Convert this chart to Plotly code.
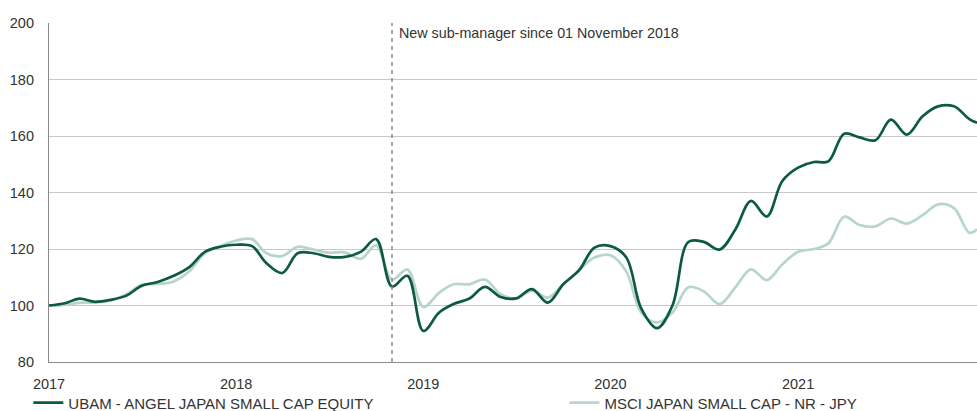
import plotly.graph_objects as go
import pandas as pd

dates = list(pd.date_range("2017-01-01", periods=60, freq="MS").strftime("%Y-%m-%d")) + ["2021-12-16"]

ubam = [100, 100.8, 102.4, 101.3, 102, 103.5, 107, 108.3, 110.5, 113.5, 119, 120.8,
        121.5, 121, 115, 111.5, 118.5, 118.5, 117.2, 117.2, 119, 123.5, 106.7, 110.5,
        91, 97.5, 100.5, 102.5, 106.6, 103, 102.5, 105.8, 101, 107.5, 112.5, 120.5,
        121, 117, 99, 92, 100, 122.5, 122.5, 119.8, 127, 137, 131.5, 144,
        148.8, 150.8, 151, 160.8, 159.5, 158.5, 165.8, 160.5, 167, 170.5, 170.5, 166,
        164.7]
msci = [100, 100.2, 100.9, 101.1, 101.8, 104, 107.3, 107.6, 108.5, 112, 118.5, 121,
        123, 123.5, 118.5, 117.5, 120.8, 119.8, 118.7, 118.8, 116.5, 121.3, 109.2, 112.7,
        99.5, 104.5, 107.5, 107.5, 109.2, 104, 102.5, 105.3, 102.8, 107.5, 112.5, 117,
        117.8, 112, 97.5, 94, 97.5, 106.5, 105, 100.5, 106.5, 112.8, 109, 114.5,
        119, 120, 122, 131.4, 128.5, 128, 130.8, 129, 132, 135.8, 134.5, 125.8,
        127]

name_ubam = "UBAM - ANGEL JAPAN SMALL CAP EQUITY"
name_msci = "MSCI JAPAN SMALL CAP - NR - JPY"
event_date = "2018-11-01"
event_text = "New sub-manager since 01 November 2018"
y_ticks = [80, 100, 120, 140, 160, 180, 200]
x_ticks = ["2017-01-01", "2018-01-01", "2019-01-01", "2020-01-01", "2021-01-01"]
x_labels = ["2017", "2018", "2019", "2020", "2021"]

dark = "#0d5b3d"
light = "#b7d5ca"

fig = go.Figure()
fig.add_trace(go.Scatter(x=dates, y=msci, name=name_msci, mode="lines", legend="legend2",
                         line=dict(color=light, width=2.7, shape="spline", smoothing=1)))
fig.add_trace(go.Scatter(x=dates, y=ubam, name=name_ubam, mode="lines", legend="legend",
                         line=dict(color=dark, width=2.7, shape="spline", smoothing=1)))

fig.add_shape(type="line", x0=event_date, x1=event_date, y0=0, y1=1, xref="x", yref="paper",
              line=dict(color="#8a8a8a", width=1.5, dash="4px,4px"))
fig.add_annotation(x=event_date, y=1, xref="x", yref="paper", text=event_text,
                   showarrow=False, xanchor="left", yanchor="top", xshift=5, yshift=0,
                   font=dict(size=14.3, color="#333333"))

leg_common = dict(orientation="h", xref="container", yref="container",
                  xanchor="left", y=0.0196, yanchor="middle",
                  font=dict(size=15, color="#333333"), bgcolor="rgba(0,0,0,0)")

fig.update_layout(
    width=977, height=411,
    margin=dict(l=49, r=0, t=23, b=49, autoexpand=False),
    paper_bgcolor="white", plot_bgcolor="white",
    font=dict(family="Liberation Sans, Arial, sans-serif", size=14.5, color="#333333"),
    showlegend=True,
    legend=dict(x=0.0290, **leg_common),
    legend2=dict(x=0.5777, **leg_common),
    xaxis=dict(range=["2017-01-01", "2021-12-16"], tickvals=x_ticks, ticktext=x_labels,
               showgrid=False, showline=True, linecolor="#8a8a8a", linewidth=1.2,
               ticks="", ticklabelstandoff=8, zeroline=False, automargin=False),
    yaxis=dict(range=[80, 200], tickvals=y_ticks, showgrid=True, gridcolor="#c8c8c8",
               gridwidth=1.2, showline=True, linecolor="#8a8a8a", linewidth=1.2,
               ticks="", ticklabelstandoff=11, zeroline=False, automargin=False),
)

fig.write_html("out.html", config={"displayModeBar": False},
               post_script="document.body.style.margin='0';document.body.style.overflow='hidden';")
